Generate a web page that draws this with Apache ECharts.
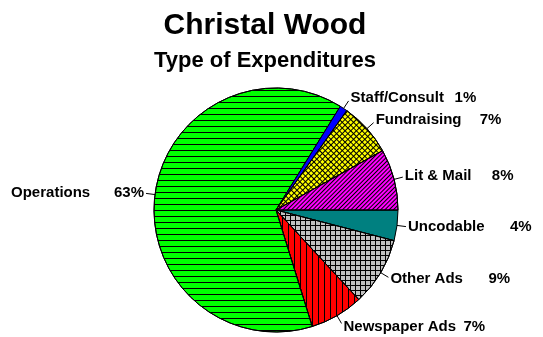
<!DOCTYPE html>
<html>
<head>
<meta charset="utf-8">
<script src="https://cdn.jsdelivr.net/npm/echarts@6/dist/echarts.min.js"></script>
<style>
html,body{margin:0;padding:0;background:#fff;}
#chart{width:543px;height:337px;}
</style>
</head>
<body>
<div id="chart"></div>
<script>
// ---- data ----
const titleText = 'Christal Wood';
const subtitleText = 'Type of Expenditures';
// slices listed clockwise starting at 3 o'clock
const categories = ['Uncodable', 'Other Ads', 'Newspaper Ads', 'Operations', 'Staff/Consult', 'Fundraising', 'Lit & Mail'];
const percents = [4, 9, 7, 63, 1, 7, 8];

// ---- styles ----
const sliceColors = {
  'Uncodable': '#008080',
  'Other Ads': '#C0C0C0',
  'Newspaper Ads': '#FF0000',
  'Operations': '#00FF00',
  'Staff/Consult': '#0000FF',
  'Fundraising': '#FFFF00',
  'Lit & Mail': '#FF00FF'
};
const sliceDecals = {
  'Operations': { color: '#000', symbol: 'rect', dashArrayX: [[6, 0]], dashArrayY: [1, 5] },
  'Newspaper Ads': { color: '#000', symbol: 'rect', dashArrayX: [[1, 5]], dashArrayY: [6, 0] },
  'Other Ads': { color: '#000', symbol: 'rect', dashArrayX: [[5, 0], [1, 4]], dashArrayY: [1, 0, 4, 0] },
  'Fundraising': { color: '#000', symbol: 'rect', dashArrayX: [[4, 0], [1, 3]], dashArrayY: [1, 0, 3, 0], rotation: Math.PI / 4 },
  'Lit & Mail': { color: '#000', symbol: 'rect', dashArrayX: [[4, 0]], dashArrayY: [1, 2], rotation: -Math.PI / 4 }
};
// emulated tab stops between name and percent
const nameBoxWidth = {
  'Uncodable': 102, 'Other Ads': 98, 'Newspaper Ads': 120, 'Operations': 103,
  'Staff/Consult': 104, 'Fundraising': 104, 'Lit & Mail': 87
};

const CX = 276, CY = 210, R = 122;

const labelFont = { fontFamily: '"Liberation Sans", Arial, sans-serif', fontWeight: 'bold', fontSize: 15, color: '#000' };
const rich = { p: Object.assign({ align: 'left' }, labelFont) };
categories.forEach((c, i) => { rich['n' + i] = Object.assign({ width: nameBoxWidth[c], align: 'left' }, labelFont); });

const pieData = categories.map((c, i) => {
  const item = {
    name: c,
    value: percents[i],
    itemStyle: { color: sliceColors[c], borderColor: '#000', borderWidth: 1 }
  };
  if (sliceDecals[c]) item.itemStyle.decal = sliceDecals[c];
  return item;
});

const chart = echarts.init(document.getElementById('chart'), null, { renderer: 'canvas' });
chart.setOption({
  animation: false,
  backgroundColor: '#fff',
  graphic: [
    { type: 'text', x: 265, y: 26, silent: true,
      style: { text: titleText, fontFamily: '"Liberation Sans", Arial, sans-serif', fontWeight: 'bold', fontSize: 30, fill: '#000', align: 'center', verticalAlign: 'middle' } },
    { type: 'text', x: 265, y: 61, silent: true,
      style: { text: subtitleText, fontFamily: '"Liberation Sans", Arial, sans-serif', fontWeight: 'bold', fontSize: 22, fill: '#000', align: 'center', verticalAlign: 'middle' } }
  ],
  series: [{
    type: 'pie',
    center: [CX, CY],
    radius: R,
    startAngle: 0,
    clockwise: true,
    avoidLabelOverlap: false,
    silent: true,
    data: pieData,
    label: {
      show: true,
      position: 'outside',
      distanceToLabelLine: 2,
      formatter: p => '{n' + p.dataIndex + '|' + p.name + '}{p|' + percents[p.dataIndex] + '%}',
      rich: rich
    },
    labelLine: { show: true, length: 9, length2: 0, lineStyle: { color: '#000', width: 1 } },
    labelLayout: params => {
      const r = params.labelRect;
      const cyLabel = r.y + r.height / 2;
      return { dy: (cyLabel - CY) * 0.03 };
    },
    emphasis: { disabled: true }
  }]
});
</script>
</body>
</html>
